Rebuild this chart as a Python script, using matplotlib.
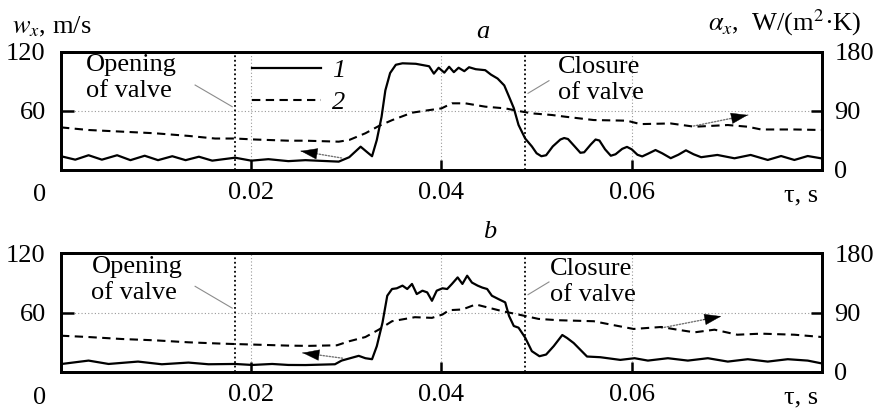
import numpy as np
import matplotlib
matplotlib.use("Agg")
import matplotlib.pyplot as plt

plt.rcParams['font.family'] = ['Liberation Serif', 'DejaVu Serif']
plt.rcParams['mathtext.fontset'] = 'stix'
plt.rcParams['font.size'] = 19

# panel a: 1 - velocity w_x (m/s, left axis), 2 - heat transfer alpha_x (right axis)
tau_a1 = [0.0000, 0.0015, 0.0029, 0.0043, 0.0059, 0.0073, 0.0088, 0.0102, 0.0117,
          0.0131, 0.0145, 0.0159, 0.0183, 0.0200, 0.0218, 0.0239, 0.0257, 0.0292,
          0.0303, 0.0315, 0.0322, 0.0327, 0.0332, 0.0337, 0.0341, 0.0346, 0.0352,
          0.0359, 0.0373, 0.0387, 0.0392, 0.0397, 0.0403, 0.0408, 0.0413, 0.0418,
          0.0424, 0.0429, 0.0436, 0.0446, 0.0452, 0.0459, 0.0466, 0.0471, 0.0476,
          0.0481, 0.0488, 0.0495, 0.0500, 0.0505, 0.0510, 0.0517, 0.0525, 0.0529,
          0.0533, 0.0540, 0.0546, 0.0550, 0.0557, 0.0562, 0.0566, 0.0572, 0.0578,
          0.0583, 0.0590, 0.0595, 0.0600, 0.0606, 0.0611, 0.0617, 0.0625, 0.0632,
          0.0641, 0.0649, 0.0657, 0.0665, 0.0673, 0.0690, 0.0708, 0.0725, 0.0743,
          0.0757, 0.0771, 0.0785, 0.0799]
w_a = [14, 10.5, 15, 10.5, 15, 10, 14.5, 10, 14,
       10, 13.5, 9.5, 12.5, 9.5, 11, 9, 10, 8.5,
       13, 23.7, 18, 14, 30.5, 54, 81, 98.6, 107,
       108.5, 108, 105.5, 98, 104, 99, 105, 99.5, 104,
       100.5, 104.5, 102.5, 101.5, 97, 93, 86, 74.6, 63,
       45.8, 32, 24, 17, 14, 15, 24, 31, 32.5,
       31.5, 24, 17.5, 18, 26, 31, 30, 21, 14.5,
       16, 21.5, 23.5, 21, 15.5, 13.8, 16.5, 20.3, 17,
       12, 15.5, 20, 16, 13, 15.3, 11.9, 15.3, 10.2,
       14.2, 10.2, 14.2, 11.9]

tau_a2 = [0.0000, 0.0029, 0.0064, 0.0099, 0.0134, 0.0162, 0.0183, 0.0204, 0.0239,
          0.0257, 0.0292, 0.0303, 0.0320, 0.0334, 0.0348, 0.0369, 0.0383, 0.0400,
          0.0411, 0.0425, 0.0446, 0.0467, 0.0481, 0.0495, 0.0516, 0.0530, 0.0560,
          0.0595, 0.0609, 0.0641, 0.0666, 0.0680, 0.0701, 0.0722, 0.0736, 0.0771,
          0.0800]
alpha_a = [65, 61, 58.5, 56, 52, 48, 48, 46.5, 44.7,
           44.7, 43.2, 45.8, 56, 67, 76, 87.4, 90.5, 94,
           101.7, 101.7, 96.6, 94, 90, 86.4, 83.9, 81.3, 76.2,
           75.2, 70, 71, 66, 67, 68.6, 66, 61.8, 61.8,
           61]

# panel b
tau_b1 = [0.0000, 0.0029, 0.0050, 0.0081, 0.0106, 0.0134, 0.0155, 0.0183, 0.0201,
          0.0222, 0.0239, 0.0257, 0.0288, 0.0295, 0.0313, 0.0320, 0.0327, 0.0332,
          0.0338, 0.0343, 0.0348, 0.0353, 0.0359, 0.0364, 0.0369, 0.0374, 0.0380,
          0.0385, 0.0390, 0.0395, 0.0401, 0.0406, 0.0411, 0.0417, 0.0422, 0.0427,
          0.0432, 0.0438, 0.0443, 0.0448, 0.0453, 0.0460, 0.0467, 0.0471, 0.0476,
          0.0481, 0.0488, 0.0495, 0.0503, 0.0510, 0.0518, 0.0527, 0.0532, 0.0539,
          0.0553, 0.0567, 0.0588, 0.0603, 0.0617, 0.0638, 0.0659, 0.0680, 0.0701,
          0.0722, 0.0743, 0.0764, 0.0785, 0.0799]
w_b = [8, 11.5, 8.1, 10.5, 7.8, 9.5, 7.8, 8.1, 7.1,
       8.1, 7.1, 7, 7.8, 11.5, 16.3, 13.9, 12.9, 26,
       49.8, 76.9, 83.7, 84.4, 87.1, 83.7, 88.8, 78.6, 82,
       80.3, 71.8, 82, 84.4, 83.7, 88.8, 95.4, 88.8, 97.1,
       90.2, 87.1, 85.1, 83.7, 76.9, 73.5, 70.2, 56.6, 46.4,
       44.7, 34.6, 21, 15.9, 17.6, 26.1, 37.3, 34.3, 29.2,
       15.6, 14.9, 12.2, 13.9, 11.5, 13.9, 11.5, 13.9, 10.5,
       12.9, 10.5, 12.9, 11.5, 8.8]

tau_b2 = [0.0000, 0.0029, 0.0064, 0.0099, 0.0134, 0.0169, 0.0204, 0.0239, 0.0260,
          0.0290, 0.0303, 0.0320, 0.0334, 0.0348, 0.0372, 0.0390, 0.0401, 0.0408,
          0.0422, 0.0436, 0.0450, 0.0464, 0.0481, 0.0502, 0.0523, 0.0560, 0.0578,
          0.0602, 0.0631, 0.0648, 0.0666, 0.0687, 0.0711, 0.0736, 0.0771, 0.0800]
alpha_b = [54.9, 52.9, 49.9, 47.9, 44.9, 42.9, 41.4, 39.9, 39.5,
           40.4, 46.5, 52.9, 64, 76.8, 82.9, 81.9, 86.9, 93.5,
           94.6, 102.2, 97.1, 92, 86.9, 80.3, 78.3, 76.8, 71.7,
           65.1, 68.1, 64, 60, 64, 56.4, 58, 56.4, 52.9]

tau_open = 0.0183
tau_close = 0.0488
x_ticks = [0.02, 0.04, 0.06]
x_ticklabels = ['0.02', '0.04', '0.06']

fig = plt.figure(figsize=(8.75, 4.12), dpi=100)

def panel(rect, tau1, w, tau2, alpha, letter, letter_x, letter_y, open_txt, close_txt,
          arrow_l, arrow_r, legend=False):
    ax = fig.add_axes(rect)
    ax2 = ax.twinx()
    ax.set_xlim(0, 0.08)
    ax.set_ylim(0, 120)
    ax2.set_ylim(0, 180)

    for s in ax.spines.values():
        s.set_linewidth(2.0)
    for s in ax2.spines.values():
        s.set_linewidth(2.0)

    # grid
    for x in x_ticks:
        ax.axvline(x, color='0.6', ls=(0, (1, 2)), lw=0.8, zorder=1)
    ax.axhline(60, color='0.6', ls=(0, (1, 2)), lw=0.8, zorder=1)
    # valve lines
    for x in (tau_open, tau_close):
        ax.axvline(x, color='k', ls=(0, (1, 1.5)), lw=1.3, zorder=2)

    l1, = ax.plot(tau1, w, color='k', lw=1.6, zorder=4)
    l2, = ax2.plot(tau2, alpha, color='k', lw=1.5, ls=(0, (4, 2.6)), zorder=4)

    ax.set_xticks(x_ticks)
    ax.set_xticklabels(x_ticklabels)
    ax.set_yticks([60, 120])
    ax.set_yticklabels(['60', '120'])
    ax2.set_yticks([0, 90, 180])
    ax2.set_yticklabels(['0', '90', '180'])
    ax.tick_params(axis='x', direction='in', length=7, width=1.8, pad=9)
    ax.tick_params(axis='y', direction='in', length=9, width=1.8, pad=11)
    ax2.tick_params(axis='y', direction='in', length=8, width=1.8, pad=9)

    ax.text(-0.028, -0.215, '0', transform=ax.transAxes, ha='center', va='center')
    ax.text(0.972, -0.215, 'τ, s', transform=ax.transAxes, ha='center', va='center')

    fig.text(letter_x, letter_y, letter, style='italic', ha='center', va='center')

    ax.text(open_txt[0], open_txt[1], 'Opening\nof valve', ha='left', va='top',
            linespacing=1.25, zorder=5)
    ax.text(close_txt[0], close_txt[1], 'Closure\nof valve', ha='left', va='top',
            linespacing=1.25, zorder=5)
    ax.plot([0.0141, 0.0180], [86.4, 64.4], color='0.55', lw=0.8, zorder=3)
    ax.plot([0.0513, 0.0491], [90.8, 78.0], color='0.55', lw=0.8, zorder=3)

    for tail, tip in (arrow_l, arrow_r):
        ax.annotate('', xy=tip, xytext=tail,
                    arrowprops=dict(arrowstyle='-', ls=(0, (1, 1.2)), color='0.45', lw=1,
                                    shrinkA=0, shrinkB=0), zorder=5)
        mid = (tip[0] + 0.3 * (tail[0] - tip[0]), tip[1] + 0.3 * (tail[1] - tip[1]))
        ax.annotate('', xy=tip, xytext=mid,
                    arrowprops=dict(arrowstyle='-|>,head_length=0.6,head_width=0.2',
                                    color='k', lw=0.3, shrinkA=0, shrinkB=0), zorder=6)

    if legend:
        ax.legend([l1, l2], ['1', '2'], frameon=False, prop={'style': 'italic'},
                  loc='upper left', bbox_to_anchor=(0.237, 1.03), handlelength=2.6,
                  handletextpad=0.45, labelspacing=0.3, borderaxespad=0)
    return ax, ax2

panel([0.0697, 0.5874, 0.8697, 0.2864], tau_a1, w_a, tau_a2, alpha_a, 'a', 0.552, 0.922,
      (0.0026, 118), (0.0522, 116),
      ((0.0295, 12.2), (0.0252, 19.3)), ((0.0665, 44.7), (0.0722, 55.9)), legend=True)
panel([0.0697, 0.0971, 0.8697, 0.2888], tau_b1, w_b, tau_b2, alpha_b, 'b', 0.560, 0.437,
      (0.0032, 117), (0.0514, 115),
      ((0.0296, 13.9), (0.0254, 19.3)), ((0.0631, 44.4), (0.0694, 56.2)))

fig.text(0.0137, 0.934, '$w_x$, m/s', ha='left', va='center')
fig.text(0.985, 0.944, '$\\alpha_x$,  W/(m$^2$·K)', ha='right', va='center')

fig.savefig('out.png', dpi=100)
